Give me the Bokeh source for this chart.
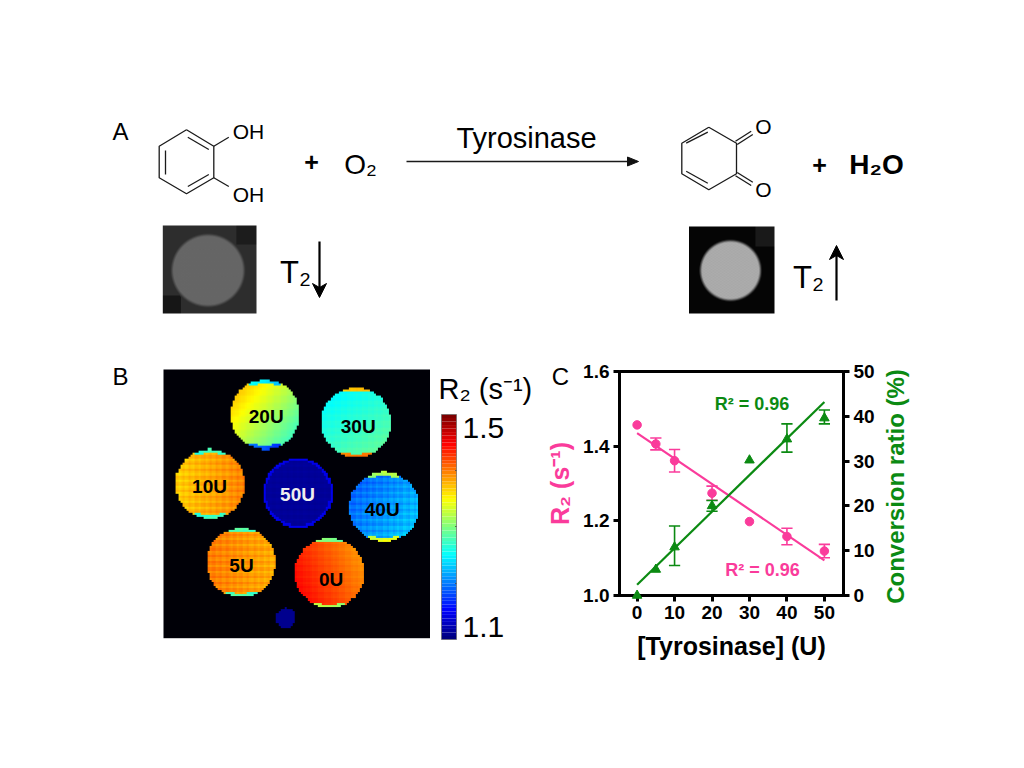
import math
import numpy as np
from bokeh.plotting import figure
from bokeh.layouts import column, row
from bokeh.models import Range1d, LinearAxis, Label, FixedTicker, PrintfTickFormatter
from bokeh.core.properties import value
from bokeh.embed import file_html
from bokeh.resources import INLINE

# ---- panel C data
tyrosinase_r2 = [0, 5, 10, 20, 30, 40, 50]
r2_values = [1.457, 1.406, 1.361, 1.274, 1.198, 1.158, 1.119]
r2_errors = [0.0, 0.016, 0.030, 0.019, 0.0, 0.022, 0.018]
conv_values = [0.0, 5.8, 10.8, 20.0, 30.2, 34.9, 39.6]
conv_low = [0.0, 5.8, 6.7, 18.8, 30.2, 32.0, 38.3]
conv_high = [0.0, 5.8, 15.5, 21.2, 30.2, 38.3, 41.4]
r2_fit_x = [0, 50]
r2_fit_y = [1.435, 1.094]
conv_fit_x = [0, 50]
conv_fit_y = [2.4, 43.2]
x_ticks = [0, 10, 20, 30, 40, 50]
r2_ticks = [1.0, 1.2, 1.4, 1.6]
conv_ticks = [0, 10, 20, 30, 40, 50]

# ---- panel B data: mean level of each disc on the 0-1 colour scale, with its tilt
disc_labels = ["20U", "30U", "10U", "50U", "40U", "5U", "0U", ""]
disc_level = [0.56, 0.42, 0.71, 0.025, 0.27, 0.73, 0.80, 0.015]
disc_tilt_x = [-0.07, 0.02, 0.03, 0.0, 0.03, -0.02, -0.05, 0.0]
disc_tilt_y = [-0.06, 0.03, 0.0, 0.0, 0.02, 0.0, 0.02, 0.0]
disc_ripple = [0.004, 0.006, 0.018, 0.004, 0.02, 0.018, 0.006, 0.0]
colorbar_ticks = ["1.5", "1.1"]

FONT = value("Liberation Sans")
PINK = "#FA3B9B"
GREEN = "#0B8A12"
TOP = "annotation"


def jet(t):
    t = np.clip(t, 0, 1)
    r = np.clip(np.minimum(4 * t - 1.5, -4 * t + 4.5), 0, 1)
    g = np.clip(np.minimum(4 * t - 0.5, -4 * t + 3.5), 0, 1)
    b = np.clip(np.minimum(4 * t + 0.5, -4 * t + 2.5), 0, 1)
    return r, g, b


def rgba(r, g, b):
    a = np.ones_like(r)
    arr = (np.dstack([r, g, b, a]) * 255).astype(np.uint8)
    return arr.view(np.uint32).reshape(r.shape)


def canvas(w, h, x0, y0, frame=None):
    if frame is None:
        yr = Range1d(-(y0 + h), -y0)
        top, bot = 0, 0
    else:
        yr = Range1d(-frame[1], -frame[0])
        top, bot = frame[0] - y0, y0 + h - frame[1]
    f = figure(width=w, height=h, x_range=Range1d(x0, x0 + w), y_range=yr,
               output_backend="svg", toolbar_location=None,
               min_border_left=0, min_border_right=0, min_border_top=top, min_border_bottom=bot,
               x_axis_type=None, y_axis_type=None, outline_line_color=None)
    f.grid.visible = False
    return f


def txt(f, x, y, s, size, color="black", style="normal", align="center", angle=0):
    f.text([x], [-y], text=[s], text_font=FONT, text_font_size=f"{size}px", text_color=color,
           text_font_style=style, text_align=align, text_baseline="middle", angle=angle, level=TOP)


def seg(f, pts, width=1.3, color="#1a1a1a"):
    f.line([p[0] for p in pts], [-p[1] for p in pts], line_width=width, line_color=color, level=TOP)


# ---------------- Panel A
A = canvas(1016, 350, 0, 0)
txt(A, 120, 131, "A", 24)
ring = [(186, 129.3), (213.3, 145.7), (213.3, 177.3), (186, 193.3), (158.7, 177.3), (158.7, 145.7), (186, 129.3)]
seg(A, ring)
for s in [[(187.3, 136.7), (208.3, 149)], [(165, 150), (165, 174)], [(187.3, 186), (208.3, 174)],
          [(213.3, 145.7), (228.3, 136.7)], [(213.3, 177.3), (228.3, 186)]]:
    seg(A, s)
txt(A, 248, 131, "OH", 21)
txt(A, 248, 194, "OH", 21)
txt(A, 311, 161, "+", 25, style="bold")
txt(A, 360, 164, "O₂", 28)
txt(A, 526, 137, "Tyrosinase", 29)
seg(A, [(406, 161), (628, 161)], 1.3)
A.patch([627, 638, 627], [-156.5, -161, -165.5], color="#111111", level=TOP)
quinone = [(708.3, 126.7), (736, 142.7), (736, 173.3), (708.3, 189.3), (681.3, 173.3), (681.3, 142.7), (708.3, 126.7)]
seg(A, quinone)
for s in [[(685.7, 142.7), (707.3, 131.7)], [(685.7, 170.7), (707.3, 182.7)],
          [(735, 140.7), (750.7, 130.7)], [(736.7, 144), (752.3, 134)],
          [(735, 175.3), (750.7, 185)], [(736.7, 172), (752.3, 181.7)]]:
    seg(A, s)
txt(A, 763, 126, "O", 21)
txt(A, 763, 189, "O", 21)
txt(A, 819, 164, "+", 25, style="bold")
txt(A, 876, 164, "H₂O", 28, style="bold")


# grey phantoms
def grey_image(x0, x1, y0, y1, cx, cy, rad, bg, fg, corners, speck):
    n = int(round(x1 - x0))
    m = int(round(y1 - y0))
    xx, yy = np.meshgrid(np.linspace(x0, x1, n), np.linspace(y1, y0, m))
    d = np.hypot(xx - cx, yy - cy)
    edge = np.clip((rad + 1.5 - d) / 3, 0, 1)
    tex = speck * np.sin(xx * 1.7) * np.cos(yy * 2.3)
    g = bg + (fg - bg + tex) * edge
    for (a, b, c, e, v) in corners:
        mask = (xx >= a) & (xx <= b) & (yy >= c) & (yy <= e) & (d > rad + 2)
        g[mask] = v
    g = np.clip(g, 0, 1)
    return rgba(g, g, g)


A.image_rgba([grey_image(162.3, 256, 225, 313, 207, 270, 36, 0.18, 0.40,
                         [(235, 256, 225, 244, 0.11), (162, 180, 295, 313, 0.09)], 0.006)],
             x=162.3, y=-313, dw=93.7, dh=88, level=TOP)
A.image_rgba([grey_image(688.5, 774, 226, 313, 729.5, 270, 30, 0.02, 0.67,
                         [(754, 774, 226, 246, 0.10)], 0.03)],
             x=688.5, y=-313, dw=85.5, dh=87, level=TOP)
txt(A, 295, 272, "T₂", 31)
seg(A, [(319, 241), (319, 290)], 2.2, "black")
A.patch([312, 319, 326, 319], [-283, -297, -283, -287], color="black", level=TOP)
txt(A, 808, 277, "T₂", 31)
seg(A, [(836, 300), (836, 252)], 2.2, "black")
A.patch([829, 836, 843, 836], [-259, -245, -259, -255], color="black", level=TOP)

# ---------------- Panel C frame, shared with panel B because a row aligns its frames
fx0, fx1, fy0, fy1 = 619, 843, 371, 595

# ---------------- Panel B
B = canvas(540, 408, 0, 350, frame=(fy0, fy1))
txt(B, 120, 376, "B", 24)
bx0, bx1, by0, by1 = 163, 429.5, 369, 637.7
centers = [(264, 414), (355.7, 422), (209, 483.7), (297.3, 492.7), (384, 506.7), (240, 562.7), (329, 573.3), (285, 618.3)]
radii = [35, 35, 35, 35, 35, 35, 35, 10]
nx, ny = 128, 129
xx, yy = np.meshgrid(np.linspace(bx0, bx1, nx), np.linspace(by1, by0, ny))
R = np.zeros_like(xx)
G = np.zeros_like(xx)
Bl = np.full_like(xx, 0.03)
for (cx, cy), rad, lvl, tx, ty, rip in zip(centers, radii, disc_level, disc_tilt_x, disc_tilt_y, disc_ripple):
    dx = (xx - cx) / rad
    dy = (yy - cy) / rad
    d = np.hypot(dx, dy)
    t = lvl + tx * dx * 1.3 + ty * dy * 1.3 + rip * np.cos(dy * 32) + rip * 0.6 * np.cos(dx * 32)
    if rad > 20 and lvl > 0.1:
        cap = (d > 0.9) & (np.abs(dy) > 0.86) & (np.abs(dx) < 0.45)
        t = np.where(cap, np.where(lvl > 0.5, t - 0.28, t + 0.3), t)
    elif rad > 20:
        t = np.where(d > 0.93, t + 0.08, t)
    r, g, b = jet(t)
    mask = d <= 1
    R[mask], G[mask], Bl[mask] = r[mask], g[mask], b[mask]
B.image_rgba([rgba(R, G, Bl)], x=bx0, y=-by1, dw=bx1 - bx0, dh=by1 - by0, level=TOP)
label_pos = [(265.7, 416), (357.7, 426), (209, 485.7), (297, 493.7), (381.7, 509.3), (241, 565.3), (330.7, 579)]
for s, (x, y) in zip(disc_labels, label_pos):
    txt(B, x, y, s, 19, "#eeeeee" if s == "50U" else "black", "bold")

# colour bar
levels = np.linspace(0, 1, 64)
cb_top, cb_bot = 414.0, 639.0
h = (cb_bot - cb_top) / len(levels)
for i, lv in enumerate(levels):
    r, g, b = jet(lv)
    B.quad(left=441, right=456, bottom=-(cb_bot - i * h), top=-(cb_bot - (i + 1) * h),
           fill_color=(int(r * 255), int(g * 255), int(b * 255)), line_color=None, level=TOP)
B.quad(left=441, right=456, bottom=-cb_bot, top=-cb_top, fill_color=None, line_color="#666666", line_width=0.7, level=TOP)
for y in (470, 526, 583):
    seg(B, [(454.5, y), (456, y)], 0.8, "#444444")
txt(B, 438, 388, "R₂ (s⁻¹)", 29, align="left")
txt(B, 462, 427, colorbar_ticks[0], 30, align="left")
txt(B, 462, 626, colorbar_ticks[1], 30, align="left")

# ---------------- Panel C
C = figure(width=476, height=408, output_backend="svg", toolbar_location=None,
           x_range=Range1d(-4.7, 55.1), y_range=Range1d(1.0, 1.6),
           min_border_left=fx0 - 540, min_border_right=1016 - fx1,
           min_border_top=fy0 - 350, min_border_bottom=758 - fy1,
           outline_line_color="black", outline_line_width=3)
C.grid.visible = False
C.extra_y_ranges = {"conv": Range1d(0, 50)}


def style_axis(ax):
    ax.axis_line_width = 3
    ax.axis_line_color = "black"
    ax.major_tick_line_width = 3
    ax.major_tick_line_color = "black"
    ax.major_tick_out = 6
    ax.major_tick_in = 0
    ax.minor_tick_line_color = None
    ax.major_label_text_font = "Liberation Sans"
    ax.major_label_text_font_style = "bold"
    ax.major_label_text_font_size = "19px"
    ax.major_label_text_color = "black"
    ax.major_label_standoff = 4
    ax.axis_label_text_font = "Liberation Sans"
    ax.axis_label_text_font_style = "bold"


xa = C.xaxis[0]
style_axis(xa)
xa.ticker = FixedTicker(ticks=x_ticks)
xa.axis_label = "[Tyrosinase] (U)"
xa.axis_label_text_font_size = "25px"
xa.axis_label_text_color = "black"
xa.axis_label_standoff = 10

ya = C.yaxis[0]
style_axis(ya)
ya.ticker = FixedTicker(ticks=r2_ticks)
ya.formatter = PrintfTickFormatter(format="%.1f")
ya.axis_label = "R₂ (s⁻¹)"
ya.axis_label_text_font_size = "25px"
ya.axis_label_text_color = PINK
ya.axis_label_standoff = 6

yr = LinearAxis(y_range_name="conv")
style_axis(yr)
yr.ticker = FixedTicker(ticks=conv_ticks)
C.add_layout(yr, "right")

# the right axis title reads upwards, so it is placed as rotated text outside the frame
to_x = lambda px: -4.7 + (px - fx0) * 59.8 / (fx1 - fx0)
to_y = lambda py: 1.6 - (py - fy0) * 0.6 / (fy1 - fy0)
C.text([to_x(895)], [to_y(486)], text=["Conversion ratio (%)"], text_font=FONT, text_font_size="24px",
       text_font_style="bold", text_color=GREEN, text_align="center", text_baseline="middle",
       angle=math.pi / 2, level=TOP)
C.text([to_x(560)], [to_y(376)], text=["C"], text_font=FONT, text_font_size="24px", text_color="black",
       text_align="center", text_baseline="middle", level=TOP)

# fits
C.line(r2_fit_x, r2_fit_y, line_color=PINK, line_width=2.2)
C.line(conv_fit_x, conv_fit_y, y_range_name="conv", line_color=GREEN, line_width=2.2)

# R2 series
xs = np.array(tyrosinase_r2, dtype=float)
rv = np.array(r2_values)
re = np.array(r2_errors)
keep = re > 0
cap = 1.5
C.segment(xs[keep], rv[keep] - re[keep], xs[keep], rv[keep] + re[keep], line_color=PINK, line_width=1.6)
C.segment(xs[keep] - cap, rv[keep] - re[keep], xs[keep] + cap, rv[keep] - re[keep], line_color=PINK, line_width=1.6)
C.segment(xs[keep] - cap, rv[keep] + re[keep], xs[keep] + cap, rv[keep] + re[keep], line_color=PINK, line_width=1.6)
C.scatter(tyrosinase_r2, r2_values, marker="circle", size=8.5, fill_color=PINK, line_color=PINK, level="annotation")

# conversion series
cl = np.array(conv_low)
ch = np.array(conv_high)
keep = ch > cl
C.segment(xs[keep], cl[keep], xs[keep], ch[keep], y_range_name="conv", line_color=GREEN, line_width=1.6)
C.segment(xs[keep] - cap, cl[keep], xs[keep] + cap, cl[keep], y_range_name="conv", line_color=GREEN, line_width=1.6)
C.segment(xs[keep] - cap, ch[keep], xs[keep] + cap, ch[keep], y_range_name="conv", line_color=GREEN, line_width=1.6)
C.scatter(tyrosinase_r2, conv_values, marker="triangle", size=9.5, y_range_name="conv",
          fill_color=GREEN, line_color=GREEN, level="annotation")

C.add_layout(Label(x=30.7, y=1.512, text="R² = 0.96", text_font="Liberation Sans", text_font_style="bold",
                   text_font_size="18px", text_color=GREEN, text_align="center", text_baseline="middle"))
C.add_layout(Label(x=33.5, y=1.069, text="R² = 0.96", text_font="Liberation Sans", text_font_style="bold",
                   text_font_size="18px", text_color=PINK, text_align="center", text_baseline="middle"))

page = column(A, row(B, C))
open("out.html", "w").write(file_html(page, INLINE))
